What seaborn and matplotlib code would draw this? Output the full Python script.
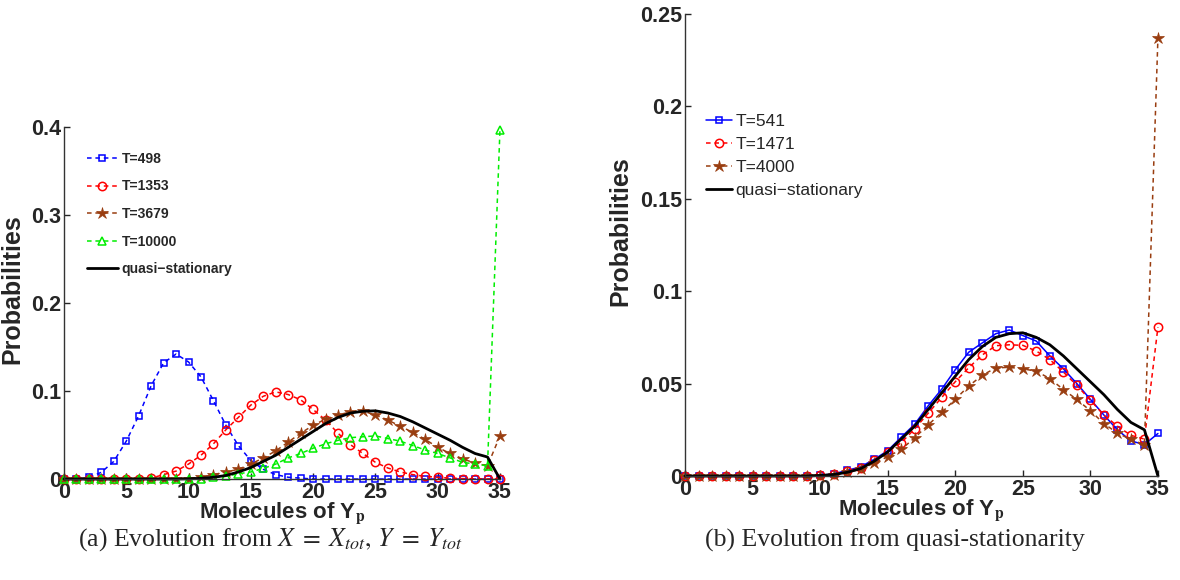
import numpy as np
import pandas as pd
import matplotlib
matplotlib.use("Agg")
import matplotlib.pyplot as plt
import seaborn as sns
from matplotlib.ticker import FuncFormatter

sns.set_style("white")
plt.rcParams['font.family'] = ['Liberation Sans', 'DejaVu Sans']
plt.rcParams['mathtext.fontset'] = 'stix'

x = list(range(36))

# ---- panel (a) ----
a_T498 = [0, 0, 0.002, 0.0076, 0.020, 0.043, 0.072, 0.106, 0.132, 0.142, 0.133, 0.116,
          0.089, 0.061, 0.038, 0.021, 0.011, 0.005, 0.002, 0.001, 0, 0, 0, 0, 0, 0, 0,
          0, 0, 0, 0, 0, 0, 0, 0, 0]
a_T1353 = [0, 0, 0, 0, 0, 0, 0.0003, 0.001, 0.005, 0.009, 0.017, 0.027, 0.040, 0.056,
           0.070, 0.084, 0.094, 0.099, 0.096, 0.090, 0.079, 0.067, 0.052, 0.039, 0.029,
           0.019, 0.0125, 0.008, 0.005, 0.003, 0.002, 0.001, 0.0005, 0.0003, 0.0002, 0]
a_T3679 = [0, 0, 0, 0, 0, 0, 0, 0, 0, 0, 0.0005, 0.002, 0.005, 0.008, 0.011, 0.017,
           0.024, 0.032, 0.042, 0.052, 0.061, 0.068, 0.073, 0.076, 0.077, 0.073, 0.067,
           0.060, 0.053, 0.045, 0.036, 0.029, 0.023, 0.018, 0.015, 0.049]
a_T10000 = [0, 0, 0, 0, 0, 0, 0, 0, 0, 0, 0, 0.0005, 0.002, 0.003, 0.006, 0.008, 0.012,
            0.017, 0.024, 0.029, 0.035, 0.040, 0.044, 0.047, 0.048, 0.049, 0.046, 0.043,
            0.038, 0.033, 0.029, 0.024, 0.019, 0.017, 0.015, 0.397]
quasi = [0, 0, 0, 0, 0, 0, 0, 0, 0, 0, 0.0003, 0.0008, 0.002, 0.004, 0.008, 0.013, 0.020,
         0.027, 0.036, 0.045, 0.054, 0.063, 0.070, 0.075, 0.077, 0.0775, 0.075, 0.071,
         0.065, 0.058, 0.051, 0.044, 0.036, 0.029, 0.025, 0]

# ---- panel (b) ----
b_T541 = [0, 0, 0, 0, 0, 0, 0, 0, 0, 0, 0.0003, 0.0012, 0.003, 0.005, 0.009, 0.0137,
          0.021, 0.028, 0.038, 0.047, 0.0575, 0.067, 0.072, 0.077, 0.079, 0.076, 0.073,
          0.065, 0.058, 0.050, 0.0415, 0.033, 0.025, 0.019, 0.017, 0.023]
b_T1471 = [0, 0, 0, 0, 0, 0, 0, 0, 0, 0, 0.0003, 0.001, 0.0025, 0.0045, 0.0085, 0.013,
           0.018, 0.0255, 0.034, 0.0425, 0.051, 0.0586, 0.0655, 0.0705, 0.071, 0.0707,
           0.0676, 0.063, 0.0563, 0.049, 0.041, 0.033, 0.027, 0.022, 0.020, 0.0806]
b_T4000 = [0, 0, 0, 0, 0, 0, 0, 0, 0, 0, 0.0002, 0.0005, 0.002, 0.0036, 0.007, 0.0104,
           0.0144, 0.0207, 0.0277, 0.0344, 0.0415, 0.0487, 0.0545, 0.0585, 0.0588, 0.058,
           0.0567, 0.0527, 0.0468, 0.0414, 0.0353, 0.0284, 0.0232, 0.0198, 0.017, 0.237]

a_labels = ["T=498", "T=1353", "T=3679", "T=10000", "quasi\u2212stationary"]
b_labels = ["T=541", "T=1471", "T=4000", "quasi\u2212stationary"]
a_yticks = [0, 0.1, 0.2, 0.3, 0.4]
b_yticks = [0, 0.05, 0.1, 0.15, 0.2, 0.25]
xticks = [0, 5, 10, 15, 20, 25, 30, 35]

BLUE, RED, BROWN, GREEN = "#0000ff", "#ff0000", "#993d10", "#00ee00"

fig = plt.figure(figsize=(11.8, 5.8), dpi=100)
axA = fig.add_axes([0.0542, 0.1741, 0.3695, 0.607])
axB = fig.add_axes([0.5805, 0.1793, 0.4008, 0.7966])

def style_axes(ax, ylim, yticks, ylab_xy):
    ax.set_xlim(0, 35)
    ax.set_ylim(*ylim)
    ax.set_xticks(xticks)
    ax.set_yticks(yticks)
    ax.yaxis.set_major_formatter(FuncFormatter(lambda v, p: "%g" % v))
    for s in ["top", "right"]:
        ax.spines[s].set_visible(False)
    for s in ["left", "bottom"]:
        ax.spines[s].set_color("#333333")
        ax.spines[s].set_linewidth(1.0)
    ax.tick_params(direction="in", length=4, width=1, labelsize=15.5, pad=2,
                   left=True, bottom=True)
    for lab in ax.get_xticklabels() + ax.get_yticklabels():
        lab.set_fontweight("bold")
    ax.set_xlabel("Molecules of Y$_{\\mathbf{p}}$", fontsize=16, fontweight="bold", labelpad=-1.5)
    ax.set_ylabel("Probabilities", fontsize=18, fontweight="bold")
    ax.yaxis.set_label_coords(*ylab_xy)

# panel (a)
common = dict(clip_on=False, markersize=6, markeredgewidth=1.1)
sns.lineplot(x=x, y=a_T498, ax=axA, color=BLUE, linestyle=(0, (3, 2.5)), linewidth=1.1,
             marker="s", markerfacecolor="none", markeredgecolor=BLUE, label=a_labels[0],
             markersize=5, markeredgewidth=1.1, clip_on=False)
sns.lineplot(x=x, y=a_T1353, ax=axA, color=RED, linestyle=(0, (3, 2.5)), linewidth=1.1,
             marker="o", markerfacecolor="none", markeredgecolor=RED, label=a_labels[1], **common)
sns.lineplot(x=x, y=a_T3679, ax=axA, color=BROWN, linestyle=(0, (3, 2.5)), linewidth=1.1,
             marker="*", markerfacecolor=BROWN, markeredgecolor=BROWN, label=a_labels[2],
             markersize=9, markeredgewidth=0.5, clip_on=False)
sns.lineplot(x=x, y=a_T10000, ax=axA, color=GREEN, linestyle=(0, (3, 2.5)), linewidth=1.1,
             marker="^", markerfacecolor="none", markeredgecolor=GREEN, label=a_labels[3], **common)
sns.lineplot(x=x, y=quasi, ax=axA, color="black", linewidth=2, label=a_labels[4], clip_on=False)
style_axes(axA, (0, 0.4), a_yticks, (-0.09, 0.54))
legA = axA.legend(loc="upper left", bbox_to_anchor=(0.04, 0.945), frameon=False,
                  prop={"weight": "bold", "size": 10}, labelspacing=0.98,
                  handlelength=2.2, handletextpad=0.3, borderaxespad=0)

# panel (b)
sns.lineplot(x=x, y=b_T541, ax=axB, color=BLUE, linestyle="-", linewidth=1.1,
             marker="s", markerfacecolor="none", markeredgecolor=BLUE, label=b_labels[0],
             markersize=5, markeredgewidth=1.1, clip_on=False)
sns.lineplot(x=x, y=b_T1471, ax=axB, color=RED, linestyle=(0, (3, 2.5)), linewidth=1.1,
             marker="o", markerfacecolor="none", markeredgecolor=RED, label=b_labels[1], **common)
sns.lineplot(x=x, y=b_T4000, ax=axB, color=BROWN, linestyle=(0, (3, 2.5)), linewidth=1.1,
             marker="*", markerfacecolor=BROWN, markeredgecolor=BROWN, label=b_labels[2],
             markersize=9, markeredgewidth=0.5, clip_on=False)
sns.lineplot(x=x, y=quasi, ax=axB, color="black", linewidth=2, label=b_labels[3], clip_on=False)
style_axes(axB, (0, 0.25), b_yticks, (-0.112, 0.53))
legB = axB.legend(loc="upper left", bbox_to_anchor=(0.03, 0.798), frameon=False,
                  prop={"size": 12.5}, labelspacing=0.45, handlelength=1.5,
                  handletextpad=0.2, borderaxespad=0)

# captions
serif = ["Liberation Serif", "DejaVu Serif"]
fig.text(0.229, 0.069, "(a) Evolution from $X\\;=\\;X_{tot},\\,Y\\;=\\;Y_{tot}$",
         ha="center", va="center", fontsize=18.5, family=serif)
fig.text(0.758, 0.069, "(b) Evolution from quasi-stationarity",
         ha="center", va="center", fontsize=18.5, family=serif)

fig.savefig("out.png", dpi=100)
